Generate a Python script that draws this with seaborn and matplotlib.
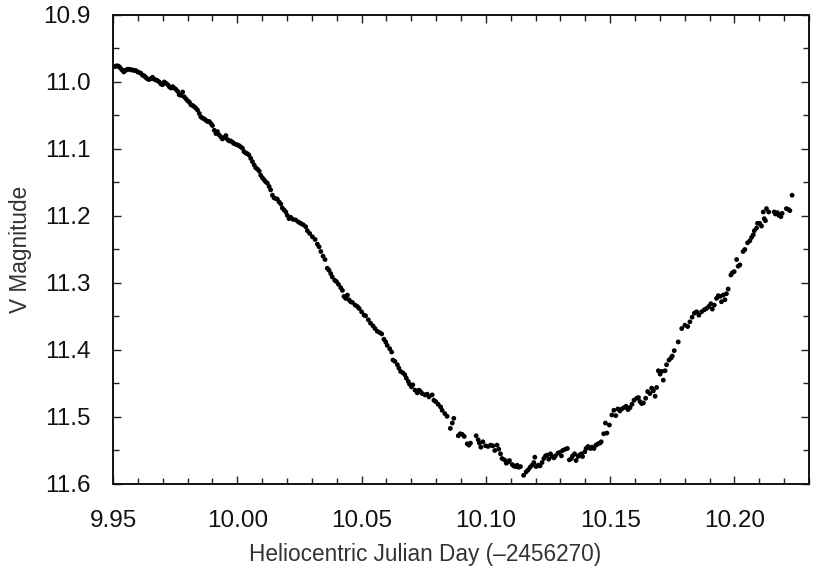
import numpy as np
import pandas as pd
import matplotlib
matplotlib.use("Agg")
import matplotlib.pyplot as plt
from matplotlib.ticker import MultipleLocator, FormatStrFormatter
import seaborn as sns

# light curve (HJD - 2456270, V mag)
hjd_desc = [
    9.9508, 9.9513, 9.9519, 9.9524, 9.9529, 9.9536, 9.9543, 9.9548, 9.9554, 9.9559,
    9.9566, 9.9572, 9.9579, 9.9586, 9.9592, 9.9599, 9.9606, 9.9612, 9.9619, 9.9626,
    9.9631, 9.9637, 9.9642, 9.9647, 9.9653, 9.9659, 9.9666, 9.9673, 9.9679, 9.9686,
    9.9693, 9.9699, 9.9706, 9.9713, 9.9720, 9.9726, 9.9733, 9.9740, 9.9746, 9.9753,
    9.9760, 9.9766, 9.9773, 9.9780, 9.9786, 9.9793, 9.9800, 9.9807, 9.9813, 9.9820,
    9.9827, 9.9833, 9.9840, 9.9847, 9.9853, 9.9860, 9.9867, 9.9873, 9.9880, 9.9887,
    9.9894, 9.9900, 9.9907, 9.9914, 9.9920, 9.9927, 9.9934, 9.9940, 9.9947, 9.9954,
    9.9961, 9.9967, 9.9974, 9.9981, 9.9987, 9.9994, 10.0001, 10.0007, 10.0014, 10.0021,
    10.0027, 10.0034, 10.0040, 10.0047, 10.0054, 10.0061, 10.0068, 10.0074, 10.0081, 10.0088,
    10.0094, 10.0101, 10.0108, 10.0114, 10.0121, 10.0128, 10.0134, 10.0141, 10.0148, 10.0155,
    10.0161, 10.0168, 10.0175, 10.0181, 10.0188, 10.0195, 10.0201, 10.0208,
    10.0215, 10.0224, 10.0235, 10.0246, 10.0255, 10.0265, 10.0275, 10.0282, 10.0291, 10.0302,
    10.0313, 10.0322, 10.0329, 10.0336, 10.0345, 10.0353, 10.0362, 10.0369, 10.0376, 10.0382,
    10.0392, 10.0399, 10.0407, 10.0416, 10.0423, 10.0429, 10.0436, 10.0443, 10.0449, 10.0456,
    10.0463, 10.0474, 10.0483, 10.0490, 10.0500, 10.0510, 10.0516, 10.0527, 10.0536, 10.0546,
    10.0554, 10.0563, 10.0573, 10.0581, 10.0590, 10.0597, 10.0603, 10.0613, 10.0621, 10.0626,
    10.0634, 10.0644, 10.0650, 10.0657, 10.0666, 10.0674, 10.0680, 10.0688, 10.0693, 10.0701,
    10.0706, 10.0715, 10.0724, 10.0731, 10.0737, 10.0744, 10.0755, 10.0764, 10.0771, 10.0784,
    10.0791, 10.0798, 10.0808, 10.0818, 10.0824, 10.0835, 10.0844, 10.0857, 10.0865, 10.0871,
]
vmag_desc = [
    10.977, 10.976, 10.976, 10.977, 10.979, 10.982, 10.985, 10.983, 10.982, 10.981,
    10.981, 10.982, 10.982, 10.983, 10.983, 10.985, 10.986, 10.987, 10.990, 10.991,
    10.993, 10.995, 10.996, 10.996, 10.995, 10.993, 10.996, 10.997, 10.998, 11.000,
    11.003, 11.004, 11.000, 11.002, 11.004, 11.007, 11.009, 11.007, 11.009, 11.011,
    11.014, 11.019, 11.020, 11.015, 11.022, 11.025, 11.028, 11.030, 11.034, 11.035,
    11.037, 11.039, 11.042, 11.047, 11.052, 11.054, 11.055, 11.057, 11.059, 11.059,
    11.062, 11.065, 11.072, 11.077, 11.074, 11.079, 11.082, 11.085, 11.083, 11.080,
    11.086, 11.088, 11.088, 11.090, 11.092, 11.093, 11.094, 11.095, 11.097, 11.099,
    11.104, 11.106, 11.107, 11.109, 11.114, 11.119, 11.124, 11.128, 11.130, 11.133,
    11.139, 11.143, 11.146, 11.149, 11.151, 11.156, 11.161, 11.169, 11.173, 11.174,
    11.175, 11.179, 11.182, 11.188, 11.191, 11.194, 11.199, 11.204,
    11.202, 11.205, 11.206, 11.209, 11.211, 11.213, 11.216, 11.222, 11.226, 11.231,
    11.235, 11.242, 11.246, 11.253, 11.260, 11.265, 11.278, 11.281, 11.286, 11.291,
    11.296, 11.298, 11.302, 11.307, 11.311, 11.320, 11.323, 11.318, 11.325, 11.328,
    11.329, 11.333, 11.335, 11.338, 11.343, 11.348, 11.349, 11.355, 11.360, 11.364,
    11.368, 11.372, 11.374, 11.376, 11.384, 11.388, 11.393, 11.398, 11.403, 11.415,
    11.417, 11.422, 11.427, 11.432, 11.434, 11.437, 11.442, 11.447, 11.451, 11.455,
    11.452, 11.460, 11.464, 11.460, 11.462, 11.465, 11.467, 11.466, 11.470, 11.467,
    11.475, 11.477, 11.481, 11.485, 11.490, 11.495, 11.499, 11.517, 11.509, 11.502,
]

hjd_min = [
    10.0889, 10.0897, 10.0905, 10.0913, 10.0925, 10.0932, 10.0938, 10.0961, 10.0969, 10.0974,
    10.0980, 10.0988, 10.0999, 10.1009, 10.1019, 10.1028, 10.1036, 10.1045, 10.1052, 10.1059,
    10.1065, 10.1075, 10.1082, 10.1090, 10.1095, 10.1106, 10.1112, 10.1119, 10.1126, 10.1132,
    10.1139, 10.1152, 10.1162, 10.1170, 10.1178, 10.1186, 10.1193, 10.1197, 10.1202, 10.1210,
    10.1218, 10.1226, 10.1233, 10.1240, 10.1246, 10.1253, 10.1260, 10.1266, 10.1274, 10.1280,
    10.1290, 10.1296, 10.1304, 10.1309, 10.1320, 10.1328, 10.1336, 10.1344, 10.1349, 10.1357,
    10.1363, 10.1371, 10.1376, 10.1384, 10.1389, 10.1398, 10.1403, 10.1411, 10.1420, 10.1427,
    10.1435, 10.1443, 10.1451, 10.1459, 10.1464, 10.1474, 10.1481, 10.1487, 10.1497, 10.1507,
    10.1515, 10.1523, 10.1531, 10.1539, 10.1547, 10.1556, 10.1564, 10.1572, 10.1580, 10.1588,
    10.1596,
]
vmag_min = [
    11.528, 11.525, 11.526, 11.529, 11.540, 11.542, 11.539, 11.528, 11.534, 11.539,
    11.545, 11.537, 11.543, 11.544, 11.542, 11.543, 11.550, 11.542, 11.548, 11.555,
    11.562, 11.564, 11.569, 11.567, 11.565, 11.571, 11.573, 11.574, 11.572, 11.575,
    11.574, 11.587, 11.582, 11.579, 11.575, 11.572, 11.568, 11.560, 11.574, 11.572,
    11.573, 11.568, 11.562, 11.558, 11.557, 11.563, 11.555, 11.559, 11.561, 11.558,
    11.554, 11.553, 11.558, 11.550, 11.548, 11.547, 11.564, 11.562, 11.558, 11.555,
    11.565, 11.559, 11.557, 11.555, 11.559, 11.552, 11.547, 11.544, 11.547, 11.545,
    11.547, 11.542, 11.540, 11.539, 11.537, 11.525, 11.509, 11.524, 11.512, 11.497,
    11.490, 11.498, 11.488, 11.491, 11.488, 11.486, 11.484, 11.489, 11.486, 11.481,
    11.475,
]

hjd_rise = [
    10.1607, 10.1614, 10.1620, 10.1627, 10.1634, 10.1643, 10.1651, 10.1660, 10.1667, 10.1674,
    10.1681, 10.1687, 10.1694, 10.1701, 10.1707, 10.1714, 10.1721, 10.1727, 10.1737, 10.1745,
    10.1750, 10.1758, 10.1774, 10.1788, 10.1801, 10.1812, 10.1821, 10.1830, 10.1839, 10.1848,
    10.1857, 10.1868, 10.1879, 10.1888, 10.1897, 10.1905, 10.1911, 10.1919, 10.1928, 10.1935,
    10.1942, 10.1948, 10.1955, 10.1962, 10.1968, 10.1975, 10.1986, 10.1991, 10.1999, 10.2009,
    10.2015, 10.2022, 10.2035, 10.2042, 10.2053, 10.2062, 10.2069, 10.2076, 10.2080, 10.2089,
    10.2093, 10.2102, 10.2109, 10.2116, 10.2120, 10.2125, 10.2129, 10.2138, 10.2160, 10.2165,
    10.2173, 10.2179, 10.2187, 10.2192, 10.2209, 10.2216, 10.2223, 10.2232,
]
vmag_rise = [
    11.472, 11.471, 11.477, 11.480, 11.479, 11.472, 11.462, 11.465, 11.457, 11.461,
    11.469, 11.456, 11.431, 11.436, 11.432, 11.445, 11.431, 11.422, 11.415, 11.412,
    11.409, 11.401, 11.388, 11.368, 11.363, 11.365, 11.358, 11.351, 11.345, 11.343,
    11.348, 11.343, 11.340, 11.338, 11.335, 11.331, 11.339, 11.333, 11.323, 11.319,
    11.320, 11.328, 11.318, 11.325, 11.316, 11.309, 11.288, 11.285, 11.283, 11.265,
    11.275, 11.273, 11.253, 11.250, 11.240, 11.237, 11.232, 11.228, 11.222, 11.218,
    11.211, 11.211, 11.215, 11.194, 11.204, 11.207, 11.189, 11.194, 11.194, 11.197,
    11.195, 11.199, 11.201, 11.196, 11.189, 11.190, 11.192, 11.169,
]

x_ticks = [9.95, 10.00, 10.05, 10.10, 10.15, 10.20]
y_ticks = [10.9, 11.0, 11.1, 11.2, 11.3, 11.4, 11.5, 11.6]

df = pd.DataFrame({
    "hjd": hjd_desc + hjd_min + hjd_rise,
    "vmag": vmag_desc + vmag_min + vmag_rise,
})

sns.set_theme(style="ticks")
plt.rcParams["font.family"] = ["Liberation Sans", "DejaVu Sans"]

fig = plt.figure(figsize=(8.15, 5.68), dpi=100)
ax = fig.add_axes([0.1387, 0.1479, 0.8539, 0.8257])

sns.scatterplot(data=df, x="hjd", y="vmag", ax=ax, color="black",
                s=12, edgecolor="none", linewidth=0)

ax.set_xlim(9.95, 10.23)
ax.set_ylim(11.6, 10.9)
ax.set_xticks(x_ticks)
ax.set_yticks(y_ticks)
ax.xaxis.set_minor_locator(MultipleLocator(0.01))
ax.yaxis.set_minor_locator(MultipleLocator(0.05))
ax.xaxis.set_major_formatter(FormatStrFormatter("%.2f"))
ax.yaxis.set_major_formatter(FormatStrFormatter("%.1f"))

ax.tick_params(which="both", direction="in", top=True, right=True,
               color="#222222", width=1.0)
ax.tick_params(which="major", length=6, labelsize=17.5, labelcolor="#111111")
ax.tick_params(axis="x", which="major", pad=19)
ax.tick_params(axis="y", which="major", pad=16)
ax.tick_params(which="minor", length=4.5)
for sp in ax.spines.values():
    sp.set_linewidth(1.4)
    sp.set_color("#111111")

ax.set_xlabel("Heliocentric Julian Day (\u20132456270)", fontsize=16.3,
              color="#333333", labelpad=8)
ax.set_ylabel("V Magnitude", fontsize=16.3, color="#333333", labelpad=8)
# the x title sits centred under the labelled ticks, not the whole axis
ax.xaxis.set_label_coords(0.448, -0.125)

fig.savefig("out.png", dpi=100)
